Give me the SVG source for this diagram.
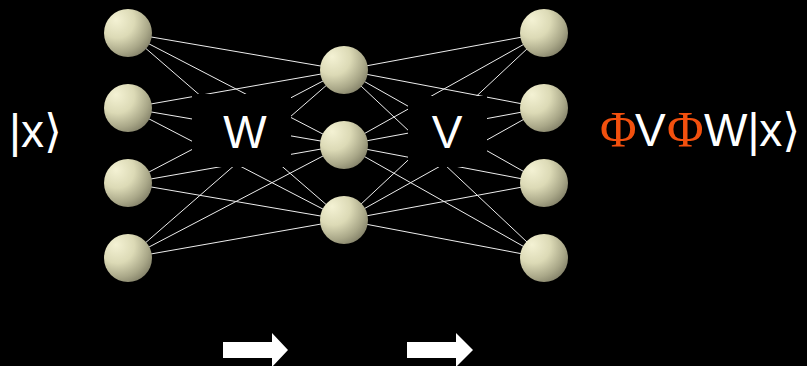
<svg xmlns="http://www.w3.org/2000/svg" width="807" height="366" viewBox="0 0 807 366">
<defs>
<radialGradient id="ball" cx="0.3" cy="0.28" r="0.8" fx="0.25" fy="0.22">
<stop offset="0" stop-color="#F4F2D4"/>
<stop offset="0.45" stop-color="#DCDAB6"/>
<stop offset="0.8" stop-color="#A9A788"/>
<stop offset="1" stop-color="#85836A"/>
</radialGradient>
<style>
.c line{stroke:#EDEDED;stroke-width:1}
.n{fill:url(#ball)}
.t{font-family:"Liberation Sans","DejaVu Sans",sans-serif;font-size:46px;fill:#FFFFFF}
.phi{font-family:"Liberation Serif","DejaVu Serif",serif;font-size:50px;fill:#F2500E}
.box{fill:#000000}
.arr{fill:#FFFFFF}
</style>
</defs>
<rect width="807" height="366" fill="#000000"/>
<g id="connectors" class="c">
<line x1="128" y1="33" x2="344" y2="70"/>
<line x1="128" y1="33" x2="344" y2="145"/>
<line x1="128" y1="33" x2="344" y2="220"/>
<line x1="128" y1="108" x2="344" y2="70"/>
<line x1="128" y1="108" x2="344" y2="145"/>
<line x1="128" y1="108" x2="344" y2="220"/>
<line x1="128" y1="183" x2="344" y2="70"/>
<line x1="128" y1="183" x2="344" y2="145"/>
<line x1="128" y1="183" x2="344" y2="220"/>
<line x1="128" y1="258" x2="344" y2="70"/>
<line x1="128" y1="258" x2="344" y2="145"/>
<line x1="128" y1="258" x2="344" y2="220"/>
<line x1="344" y1="70" x2="544" y2="33"/>
<line x1="344" y1="70" x2="544" y2="108"/>
<line x1="344" y1="70" x2="544" y2="183"/>
<line x1="344" y1="70" x2="544" y2="258"/>
<line x1="344" y1="145" x2="544" y2="33"/>
<line x1="344" y1="145" x2="544" y2="108"/>
<line x1="344" y1="145" x2="544" y2="183"/>
<line x1="344" y1="145" x2="544" y2="258"/>
<line x1="344" y1="220" x2="544" y2="33"/>
<line x1="344" y1="220" x2="544" y2="108"/>
<line x1="344" y1="220" x2="544" y2="183"/>
<line x1="344" y1="220" x2="544" y2="258"/>
</g>
<g id="label-W">
<rect class="box" x="192" y="94" width="99" height="73"/>
<text class="t" x="245" y="148" text-anchor="middle">W</text>
</g>
<g id="label-V">
<rect class="box" x="408" y="96" width="79" height="71"/>
<text class="t" x="447" y="148" text-anchor="middle">V</text>
</g>
<g id="in1"><circle class="n" cx="128" cy="33" r="24"/></g>
<g id="in2"><circle class="n" cx="128" cy="108" r="24"/></g>
<g id="in3"><circle class="n" cx="128" cy="183" r="24"/></g>
<g id="in4"><circle class="n" cx="128" cy="258" r="24"/></g>
<g id="hid1"><circle class="n" cx="344" cy="70" r="24"/></g>
<g id="hid2"><circle class="n" cx="344" cy="145" r="24"/></g>
<g id="hid3"><circle class="n" cx="344" cy="220" r="24"/></g>
<g id="out1"><circle class="n" cx="544" cy="33" r="24"/></g>
<g id="out2"><circle class="n" cx="544" cy="108" r="24"/></g>
<g id="out3"><circle class="n" cx="544" cy="183" r="24"/></g>
<g id="out4"><circle class="n" cx="544" cy="258" r="24"/></g>
<g id="input-label">
<text class="t" x="9" y="147">|x⟩</text>
</g>
<g id="output-label">
<text y="146"><tspan class="phi" x="600">Φ</tspan><tspan class="t" x="635">V</tspan><tspan class="phi" x="667">Φ</tspan><tspan class="t" x="704">W|x⟩</tspan></text>
</g>
<g id="arrow1"><polygon class="arr" points="223,342 272,342 272,333 288,350 272,367 272,358 223,358"/></g>
<g id="arrow2"><polygon class="arr" points="407,342 456,342 456,333 473,350 456,367 456,358 407,358"/></g>
</svg>
